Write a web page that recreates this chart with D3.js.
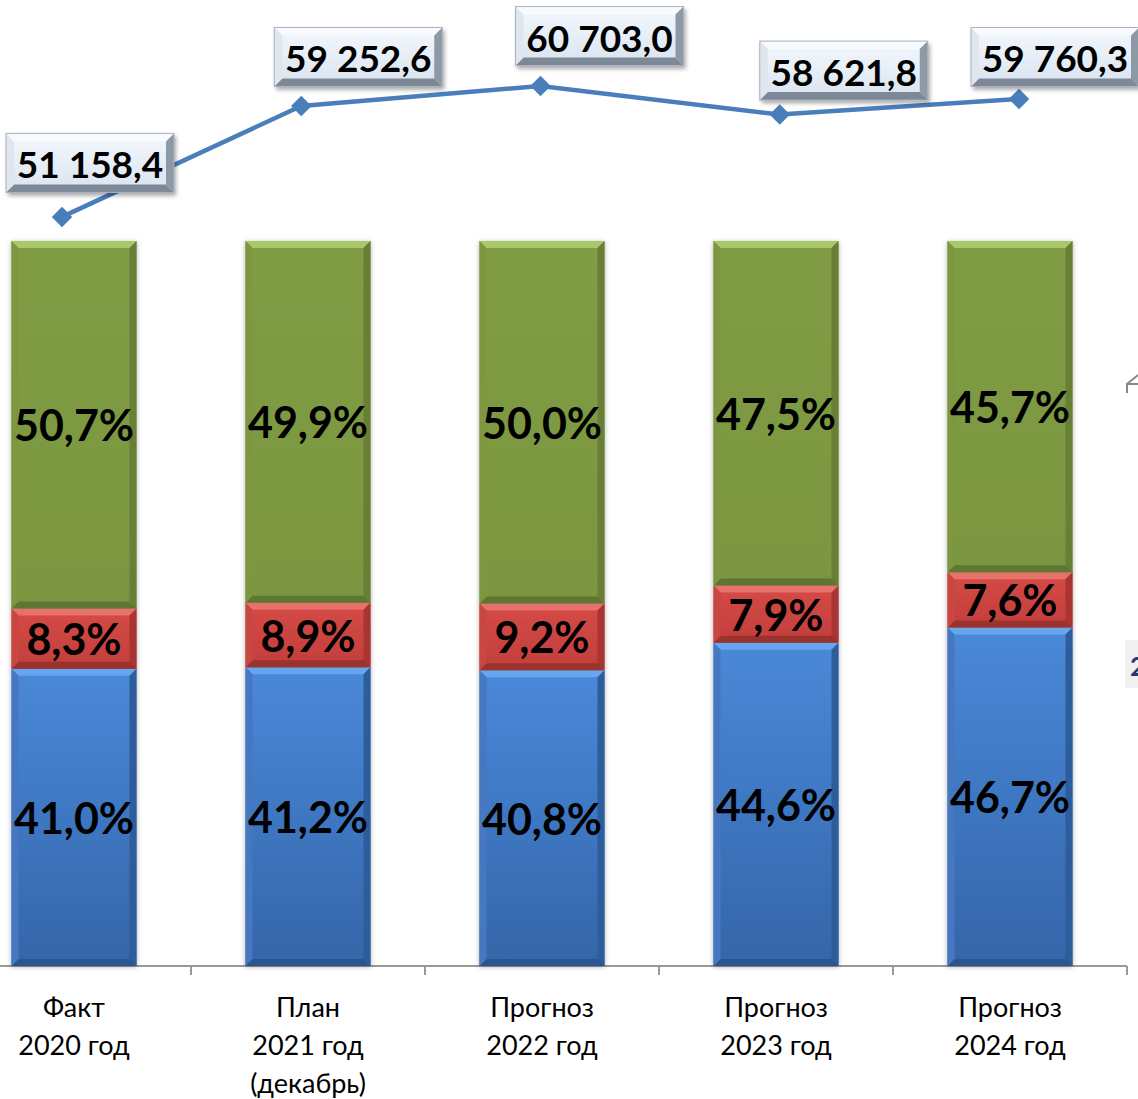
<!DOCTYPE html>
<html><head><meta charset="utf-8">
<script src="https://cdn.jsdelivr.net/npm/d3@7"></script>
<style>html,body{margin:0;padding:0;background:#fff;overflow:hidden}svg{display:block}</style>
</head><body>
<svg id="chart" width="1138" height="1099"></svg>
<script>
// ---- data ----
const categories = ["Факт\n2020 год", "План\n2021 год\n(декабрь)", "Прогноз\n2022 год", "Прогноз\n2023 год", "Прогноз\n2024 год"];
const bluePct  = [41.0, 41.2, 40.8, 44.6, 46.7];
const redPct   = [8.3, 8.9, 9.2, 7.9, 7.6];
const greenPct = [50.7, 49.9, 50.0, 47.5, 45.7];
const totals   = [51158.4, 59252.6, 60703.0, 58621.8, 59760.3];
const fmtPct = v => v.toFixed(1).replace(".", ",") + "%";
const fmtVal = v => { const s = v.toFixed(1).split("."); return s[0].replace(/\B(?=(\d{3})+(?!\d))/g, " ") + "," + s[1]; };

// ---- layout ----
const svg = d3.select("#chart");
const x = d3.scaleBand().domain(categories).range([-43, 1127]).padding(0);
const barW = 125;
const y = d3.scaleLinear().domain([0, 100]).range([966, 241]);
const xl = d3.scalePoint().domain(categories).range([62, 1019]);
const yl = d3.scaleLinear().domain([49400, 61000]).range([241, 82]);
const labelNudge = [[28, -54], [57, -49], [59, -50], [64, -44], [36, -42]];

const defs = svg.append("defs");
const f = defs.append("filter").attr("id", "sh").attr("x", "-10%").attr("y", "-10%").attr("width", "130%").attr("height", "130%");
f.append("feDropShadow").attr("dx", 0).attr("dy", 1).attr("stdDeviation", 2.5).attr("flood-color", "#000").attr("flood-opacity", 0.3);
const f2 = defs.append("filter").attr("id", "sh2").attr("x", "-10%").attr("y", "-20%").attr("width", "130%").attr("height", "150%");
f2.append("feDropShadow").attr("dx", 2).attr("dy", 3).attr("stdDeviation", 2).attr("flood-color", "#000").attr("flood-opacity", 0.35);

function grad(id, stops) {
  const g = defs.append("linearGradient").attr("id", id).attr("x1", 0).attr("y1", 0).attr("x2", 0).attr("y2", 1);
  stops.forEach(s => g.append("stop").attr("offset", s[0]).attr("stop-color", s[1]));
  return "url(#" + id + ")";
}
const series = [
  { key: "blue", vals: bluePct, face: grad("gBlue", [[0, "#4a89d8"], [0.5, "#3e77c2"], [1, "#3665a8"]]),
    top: "#66a6ee", left: "#4478c0", right: "#2f5d9c", bottom: "#2b548e" },
  { key: "red", vals: redPct, face: grad("gRed", [[0, "#d54a46"], [1, "#c23f3c"]]),
    top: "#e8716d", left: "#c94642", right: "#a83532", bottom: "#9a302d" },
  { key: "green", vals: greenPct, face: grad("gGreen", [[0, "#809d45"], [1, "#7a963f"]]),
    top: "#a8c86a", left: "#7b9741", right: "#687f34", bottom: "#5f7530" }
];
const boxFace = grad("gBox", [[0, "#f3f7fb"], [0.5, "#e6eef7"], [1, "#d9e3ee"]]);

function bevel(g, bx, by, bw, bh, c, b) {
  b = Math.min(b, bh / 3);
  g.append("rect").attr("x", bx).attr("y", by).attr("width", bw).attr("height", bh).attr("fill", c.face);
  const poly = (pts, col) => g.append("polygon").attr("points", pts.map(p => p.join(",")).join(" ")).attr("fill", col);
  poly([[bx, by], [bx + bw, by], [bx + bw - b, by + b], [bx + b, by + b]], c.top);
  poly([[bx, by + bh], [bx + bw, by + bh], [bx + bw - b, by + bh - b], [bx + b, by + bh - b]], c.bottom);
  poly([[bx, by], [bx + b, by + b], [bx + b, by + bh - b], [bx, by + bh]], c.left);
  poly([[bx + bw, by], [bx + bw - b, by + b], [bx + bw - b, by + bh - b], [bx + bw, by + bh]], c.right);
}

// ---- axis ----
const axisG = svg.append("g");
axisG.append("line").attr("x1", 0).attr("x2", 1127).attr("y1", 966).attr("y2", 966).attr("stroke", "#999").attr("stroke-width", 2);
categories.forEach(cat => {
  const tx = x(cat) + x.bandwidth();
  axisG.append("line").attr("x1", tx).attr("x2", tx).attr("y1", 966).attr("y2", 975).attr("stroke", "#999").attr("stroke-width", 2);
});

// ---- bars ----
categories.forEach((cat, i) => {
  const cx = x(cat) + x.bandwidth() / 2;
  const bx = cx - barW / 2;
  const g = svg.append("g").attr("filter", "url(#sh)");
  let cum = 0;
  const segs = [];
  series.forEach(s => {
    const v = s.vals[i];
    const y0 = y(cum), y1 = y(cum + v);
    bevel(g, bx, y1, barW, y0 - y1, s, 7);
    segs.push({ v, yc: (y0 + y1) / 2 });
    cum += v;
  });
  segs.forEach(sg => {
    svg.append("text").attr("x", cx).attr("y", sg.yc).attr("text-anchor", "middle").attr("dominant-baseline", "central")
      .attr("font-family", "Lato").attr("font-weight", 700).attr("font-size", 43).attr("fill", "#000").text(fmtPct(sg.v));
  });
  // category label
  const lines = cat.split("\n");
  const t = svg.append("text").attr("text-anchor", "middle").attr("font-family", "Lato").attr("font-size", 27).attr("fill", "#000");
  lines.forEach((ln, k) => t.append("tspan").attr("x", cx).attr("y", 1017 + k * 38).text(ln));
});

// ---- line ----
const lineGen = d3.line().x((d, i) => xl(categories[i])).y(d => yl(d));
svg.append("path").datum(totals).attr("d", lineGen).attr("fill", "none").attr("stroke", "#4a7ebb").attr("stroke-width", 4.5);
totals.forEach((v, i) => {
  const px = xl(categories[i]), py = yl(v);
  svg.append("path").attr("d", d3.symbol().type(d3.symbolSquare).size(210)()).attr("transform", `translate(${px},${py}) rotate(45)`).attr("fill", "#4a7ebb");
});

// ---- value labels ----
const boxC = { face: boxFace, top: "#f8fbfe", left: "#dfe6ee", right: "#8e99a6", bottom: "#7d8896" };
totals.forEach((v, i) => {
  const px = xl(categories[i]), py = yl(v);
  const bw = 168, bh = 59;
  const cx = px + labelNudge[i][0], cy = py + labelNudge[i][1];
  const g = svg.append("g").attr("filter", "url(#sh2)");
  bevel(g, cx - bw / 2, cy - bh / 2, bw, bh, boxC, 8);
  svg.append("rect").attr("x", cx - bw / 2).attr("y", cy - bh / 2).attr("width", bw).attr("height", bh).attr("fill", "none").attr("stroke", "#a9b3bf").attr("stroke-width", 1);
  svg.append("text").attr("x", cx).attr("y", cy + 1).attr("text-anchor", "middle").attr("dominant-baseline", "central")
    .attr("font-family", "Lato").attr("font-weight", 700).attr("font-size", 37).attr("fill", "#000").text(fmtVal(v));
});

// ---- clipped fragments at right edge ----
svg.append("path").attr("d", "M1127,393 L1127,384 L1138,384 M1127,384 L1138,375").attr("fill", "none").attr("stroke", "#888").attr("stroke-width", 2);
svg.append("rect").attr("x", 1125).attr("y", 640).attr("width", 13).attr("height", 48).attr("fill", "#f0f0f0");
svg.append("text").attr("x", 1130).attr("y", 676).attr("font-family", "Lato").attr("font-weight", 700).attr("font-size", 26).attr("fill", "#1f3a6e").text("2");
</script>
</body></html>
